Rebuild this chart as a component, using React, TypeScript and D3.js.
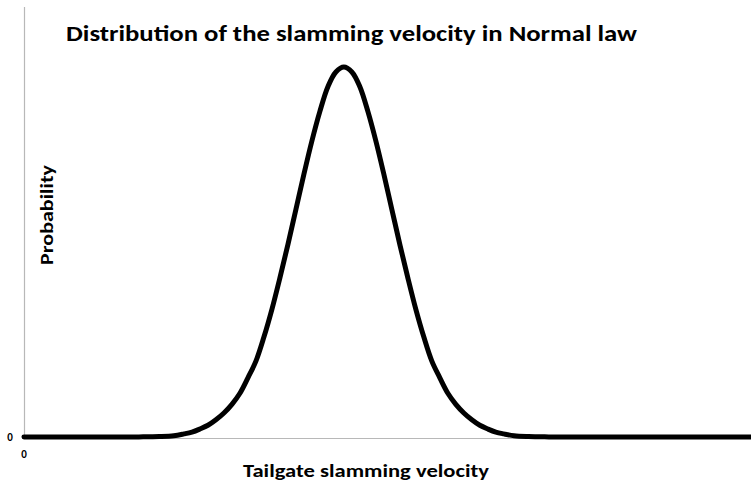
import React from 'react';
import * as d3 from 'd3';

const width = 751;
const height = 482;

// velocity (arbitrary units 0..100) and probability
const velocity = [
  0, 12.4, 15.8, 18.6, 20.6, 22.0, 23.1, 24.2, 25.3, 26.4, 27.5, 28.6, 29.7, 30.8, 31.9, 33.0,
  34.1, 35.2, 36.3, 37.4, 38.5, 39.6, 40.7, 41.8, 42.9,
  44.0,
  45.1, 46.2, 47.3, 48.4, 49.5, 50.6, 51.7, 52.8, 53.9, 55.0, 56.1, 57.2, 58.3, 59.4, 60.5,
  61.6, 62.7, 63.8, 64.9, 66.0, 67.4, 69.4, 72.2, 75.6, 100,
];
const probability = [
  0, 0, 0.00002, 0.00007, 0.0002, 0.0005, 0.0008, 0.0013, 0.0019, 0.0028, 0.0039, 0.0053, 0.0071, 0.0096, 0.0123, 0.0162,
  0.0207, 0.0258, 0.0312, 0.0369, 0.0426, 0.048, 0.0528, 0.0568, 0.0592,
  0.06,
  0.0592, 0.0568, 0.0528, 0.048, 0.0426, 0.0369, 0.0312, 0.0258, 0.0207, 0.0162, 0.0123, 0.0096, 0.0071, 0.0053, 0.0039,
  0.0028, 0.0019, 0.0013, 0.0008, 0.0005, 0.0002, 0.00007, 0.00002, 0, 0,
];

const title = 'Distribution of the slamming velocity in Normal law';
const xTitle = 'Tailgate slamming velocity';
const yTitle = 'Probability';
const xTickLabels = ['0'];
const yTickLabels = ['0'];

const font = "Calibri, Carlito, 'Open Sans', 'Noto Sans', sans-serif";

export default function App() {
  const x = d3.scaleLinear().domain([0, 100]).range([24, 751]);
  const y = d3.scaleLinear().domain([0, 0.06]).range([437, 67]);

  const points: [number, number][] = velocity.map((v, i) => [v, probability[i]]);
  const line = d3.line<[number, number]>()
    .x(d => x(d[0]))
    .y(d => y(d[1]))
    .curve(d3.curveCatmullRom.alpha(0.5));

  return (
    <svg width={width} height={height} style={{ position: 'absolute', left: 0, top: 0, background: '#fff' }}>
      {/* axes */}
      <line x1={x(0) + 0.5} x2={x(0) + 0.5} y1={7} y2={y(0) + 1} stroke="#b8b8b8" strokeWidth={1.2} />
      <line x1={x(0)} x2={width} y1={y(0) + 1.5} y2={y(0) + 1.5} stroke="#b8b8b8" strokeWidth={1.2} />

      <path d={line(points) || ''} fill="none" stroke="#000" strokeWidth={5} strokeLinejoin="round" strokeLinecap="round" />

      {yTickLabels.map(t => (
        <text key={'y' + t} x={10} y={y(0) + 4} fontFamily={font} fontWeight="bold" fontSize={11} textAnchor="middle">{t}</text>
      ))}
      {xTickLabels.map(t => (
        <text key={'x' + t} x={x(0)} y={y(0) + 21} fontFamily={font} fontWeight="bold" fontSize={11} textAnchor="middle">{t}</text>
      ))}

      <text x={66} y={41} fontFamily={font} fontWeight="bold" fontSize={22} textLength={571} lengthAdjust="spacingAndGlyphs">{title}</text>
      <text x={366} y={477} fontFamily={font} fontWeight="bold" fontSize={18} textAnchor="middle" textLength={246} lengthAdjust="spacingAndGlyphs">{xTitle}</text>
      <text transform="translate(53,215) rotate(-90)" fontFamily={font} fontWeight="bold" fontSize={18} textAnchor="middle" textLength={100} lengthAdjust="spacingAndGlyphs">{yTitle}</text>
    </svg>
  );
}
